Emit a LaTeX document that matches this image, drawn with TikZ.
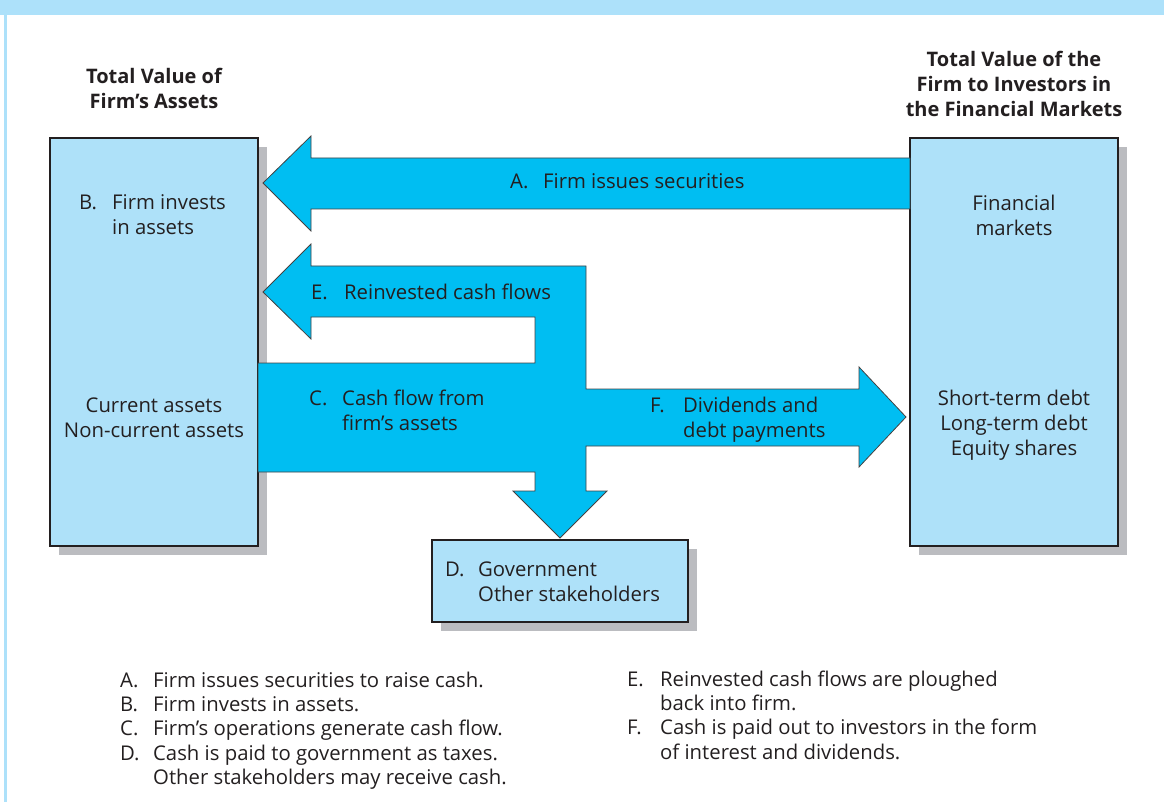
\documentclass[tikz,border=0pt]{standalone}
\usepackage{fontspec}
\setmainfont{Open Sans}
\usetikzlibrary{shadows}

\definecolor{framebg}{HTML}{ADE1FA}
\definecolor{panelblue}{HTML}{AEE1F9}
\definecolor{flowcyan}{HTML}{00BEF2}
\definecolor{shadowgrey}{HTML}{BBBCC0}
\definecolor{inkgrey}{HTML}{231F20}

\newcommand{\lettag}[1]{\makebox[33pt][l]{#1}}

\tikzset{
  box/.style={draw=inkgrey, line width=1.2pt, fill=panelblue,
    drop shadow={shadow xshift=9pt, shadow yshift=-9pt, fill=shadowgrey, opacity=1}},
  flow/.style={draw=inkgrey!85, line width=0.8pt, fill=flowcyan, line join=miter},
  lbl/.style={inner sep=0pt, align=left, anchor=west, text=inkgrey},
  ctr/.style={inner sep=0pt, align=center, text=inkgrey},
  head/.style={ctr, font=\fontsize{20}{25}\selectfont\bfseries}
}

\begin{document}
\begin{tikzpicture}[x=1pt, y=-1pt, font=\fontsize{20.3}{25}\selectfont]
  \useasboundingbox (0,0) rectangle (1164,802);
  % Frame
  \fill[framebg] (0,0) rectangle (1164,15);
  \fill[framebg] (4,15) rectangle (7,802);

  % Boxes
  \node[box, minimum width=208pt, minimum height=408pt] (assets) at (154,342) {};
  \node[box, minimum width=208pt, minimum height=408pt] (markets) at (1014,342) {};
  \node[box, minimum width=256pt, minimum height=82pt] (govt) at (560,581) {};

  % Titles
  \node[head] (assetstitle) at (154,88) {Total Value of\\Firm’s Assets};
  \node[head] (marketstitle) at (1014,84) {Total Value of the\\Firm to Investors in\\the Financial Markets};

  % Flow A
  \draw[flow] (910,158) -- (311,158) -- (311,136) -- (263,183) -- (311,231)
    -- (311,209) -- (910,209) -- cycle;

  % Flows C, D, E, F
  \draw[flow] (258,363) -- (535,363) -- (535,317) -- (311,317) -- (311,339)
    -- (263,292) -- (311,244) -- (311,266) -- (586,266) -- (586,389)
    -- (859,389) -- (859,367) -- (906,417) -- (859,467) -- (859,446)
    -- (586,446) -- (586,491) -- (607,491) -- (560,538) -- (513,491)
    -- (535,491) -- (535,472) -- (258,472) -- cycle;

  % Labels
  \node[lbl] (flowA) at (510,181) {\lettag{A.}Firm issues securities};
  \node[lbl] (flowE) at (311,292) {\lettag{E.}Reinvested cash flows};
  \node[lbl] (flowC) at (309,410) {\lettag{C.}Cash flow from\\\hspace*{33pt}firm’s assets};
  \node[lbl] (flowF) at (650,419.5) {\lettag{F.}Dividends and\\\hspace*{33pt}debt payments};
  \node[lbl] (invest) at (79,215) {\lettag{B.}Firm invests\\\hspace*{33pt}in assets};
  \node[ctr] (assetkinds) at (154,418) {Current assets\\Non-current assets};
  \node[ctr] (finmkt) at (1014,215) {Financial\\markets};
  \node[ctr] (claims) at (1014,425) {Short-term debt\\Long-term debt\\Equity shares};
  \node[lbl] (govtlbl) at (445,582) {\lettag{D.}Government\\\hspace*{33pt}Other stakeholders};

  % Notes
  \node[lbl, font=\fontsize{20.3}{24.3}\selectfont] (notesleft) at (120,730.5)
    {\lettag{A.}Firm issues securities to raise cash.\\
     \lettag{B.}Firm invests in assets.\\
     \lettag{C.}Firm’s operations generate cash flow.\\
     \lettag{D.}Cash is paid to government as taxes.\\
     \hspace*{33pt}Other stakeholders may receive cash.};
  \node[lbl, font=\fontsize{20.3}{24.3}\selectfont] (notesright) at (627,715)
    {\lettag{E.}Reinvested cash flows are ploughed\\
     \hspace*{33pt}back into firm.\\
     \lettag{F.}Cash is paid out to investors in the form\\
     \hspace*{33pt}of interest and dividends.};
\end{tikzpicture}
\end{document}
